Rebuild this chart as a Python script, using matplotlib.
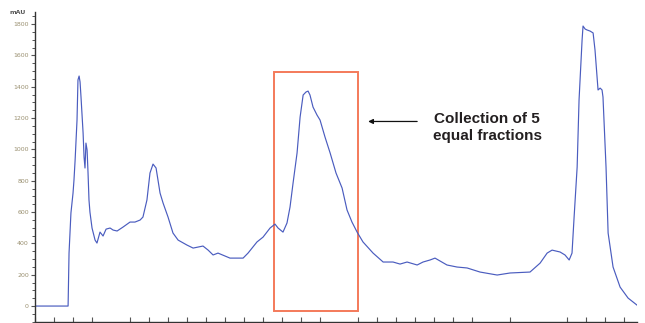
#!/usr/bin/env python3

import matplotlib.pyplot as plt
import numpy as np
from matplotlib.patches import Rectangle
from matplotlib.ticker import MultipleLocator

# chromatogram trace (time units, mAU)
time = [0.00, 1.68, 1.74, 1.79, 1.89, 2.00, 2.05, 2.11, 2.21, 2.26, 2.32, 2.37, 2.42,
        2.53, 2.58, 2.63, 2.68, 2.74, 2.79, 2.84, 2.89, 3.00, 3.16, 3.26, 3.42, 3.58,
        3.74, 3.95, 4.11, 4.32, 4.63, 5.00, 5.26, 5.53, 5.68, 5.89, 6.05, 6.21, 6.37,
        6.58, 6.74, 7.00, 7.26, 7.53, 8.00, 8.32, 8.84, 9.11, 9.37, 9.63, 10.26, 10.95,
        11.21, 11.68, 12.00, 12.37, 12.63, 12.79, 13.05, 13.26, 13.42, 13.58, 13.79,
        13.95, 14.11, 14.26, 14.37, 14.47, 14.63, 14.84, 15.00, 15.26, 15.53, 15.84,
        16.16, 16.42, 16.68, 16.95, 17.26, 17.79, 18.32, 18.84, 19.21, 19.58, 20.11,
        20.42, 20.79, 21.05, 21.68, 22.21, 22.74, 23.42, 24.32, 25.00, 26.05, 26.58,
        26.95, 27.21, 27.63, 27.89, 28.11, 28.26, 28.37, 28.53, 28.63, 28.79, 28.84,
        28.95, 29.05, 29.21, 29.37, 29.47, 29.63, 29.74, 29.84, 29.89, 30.05, 30.16,
        30.42, 30.79, 31.21, 31.68]
mau = [0, 0, 0, 338, 594, 721, 804, 932, 1187, 1443, 1468, 1430, 1334,
       1104, 951, 881, 1040, 996, 849, 677, 600, 498, 421, 402, 472, 447,
       491, 498, 485, 479, 504, 536, 536, 549, 568, 677, 849, 906, 881,
       721, 657, 568, 466, 421, 389, 370, 383, 357, 326, 338, 306, 306,
       338, 409, 440, 498, 523, 498, 472, 530, 632, 785, 977,
       1206, 1347, 1366, 1372, 1347, 1270, 1219, 1187, 1079, 977, 849,
       753, 613, 536, 472, 409, 338, 281, 281, 268, 281, 262,
       281, 294, 306, 262, 249, 243, 217, 198, 211, 217, 274,
       338, 357, 345, 326, 294, 338, 568, 887, 1315, 1698, 1787,
       1768, 1762, 1755, 1743, 1634, 1379, 1391, 1379, 1334, 887, 466,
       249, 121, 51, 6]

x_ticks = [0, 1, 2, 3, 5, 6, 7, 8, 9, 10, 11, 12, 13, 14, 15, 17, 18, 19, 20, 21,
           22, 23, 25, 28, 29, 30, 31]
y_ticks = [0, 200, 400, 600, 800, 1000, 1200, 1400, 1600, 1800]

fraction_window = (12.60, 16.98)
fraction_span = (-30, 1491)
label = 'Collection of 5\nequal fractions'

fig = plt.figure(figsize=(6.45, 3.23), dpi=100)
ax = fig.add_axes([0.0543, 0.003, 0.9333, 0.96])

ax.plot(time, mau, color='#4a5cbf', lw=0.85)

ax.add_patch(Rectangle((fraction_window[0], fraction_span[0]),
                       fraction_window[1] - fraction_window[0],
                       fraction_span[1] - fraction_span[0],
                       fill=False, ec='#f47a5a', lw=1.4))

ax.annotate('', xy=(17.53, 1178), xytext=(20.11, 1178),
            arrowprops=dict(arrowstyle='-|>', color='#111111', lw=0.9,
                            mutation_scale=7, shrinkA=0, shrinkB=0))
ax.text(23.8, 1140, label, ha='center', va='center', fontsize=11,
        fontweight='bold', color='#231f20', linespacing=1.3,
        family=['Liberation Sans', 'DejaVu Sans'])

ax.set_xlim(0, 31.68)
ax.set_ylim(-102, 1877)
ax.set_xticks(x_ticks)
ax.set_xticklabels([])
ax.set_yticks(y_ticks)
ax.set_yticklabels([str(v) for v in y_ticks])
ax.yaxis.set_minor_locator(MultipleLocator(50))

for s in ['top', 'right']:
    ax.spines[s].set_visible(False)
for s in ['left', 'bottom']:
    ax.spines[s].set_color('#333333')
    ax.spines[s].set_linewidth(1.0)

ax.tick_params(axis='x', direction='in', length=3.5, width=0.8, color='#555555')
ax.tick_params(axis='y', which='major', direction='out', length=3, width=0.8,
               color='#555555', labelsize=4.5, labelcolor='#9a9070', pad=1.5)
ax.tick_params(axis='y', which='minor', direction='out', length=2, width=0.7,
               color='#555555')

fig.text(10 / 645, 1 - 13 / 323, 'mAU', fontsize=4.5, fontweight='bold',
         color='#555555', va='center', ha='left')

plt.savefig('out.png', dpi=100)
